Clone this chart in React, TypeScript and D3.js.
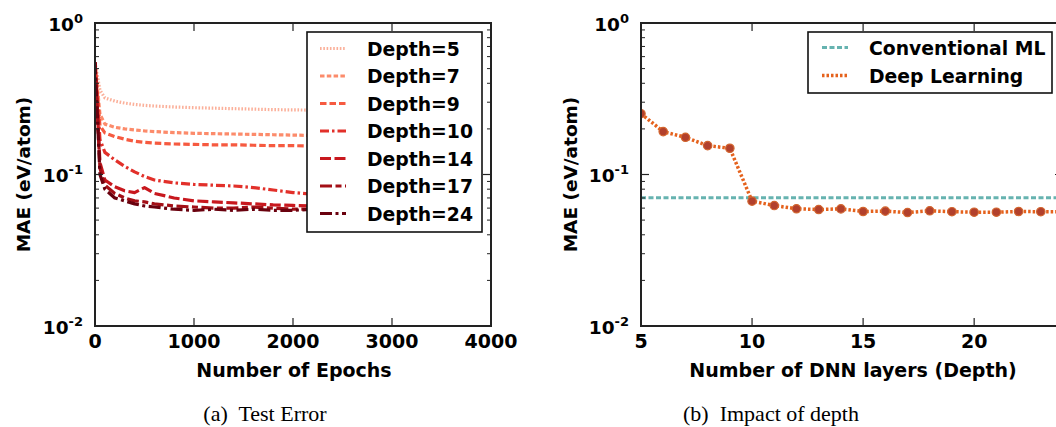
import React from "react";
import * as d3 from "d3";

const epochs = [0, 50, 100, 200, 300, 400, 500, 600, 800, 1000, 1200, 1400, 1600, 1800, 2000, 2200, 2400, 2600, 2800, 3000];
const depth5 = [0.55, 0.36, 0.32, 0.305, 0.296, 0.29, 0.286, 0.283, 0.279, 0.276, 0.274, 0.272, 0.27, 0.268, 0.267, 0.266, 0.265, 0.264, 0.263, 0.262];
const depth7 = [0.55, 0.25, 0.215, 0.205, 0.2, 0.197, 0.194, 0.192, 0.189, 0.187, 0.186, 0.185, 0.184, 0.183, 0.182, 0.181, 0.18, 0.18, 0.179, 0.179];
const depth9 = [0.55, 0.21, 0.188, 0.178, 0.171, 0.166, 0.163, 0.161, 0.159, 0.158, 0.157, 0.157, 0.156, 0.155, 0.155, 0.154, 0.154, 0.153, 0.153, 0.152];
const depth10 = [0.55, 0.17, 0.14, 0.125, 0.113, 0.104, 0.097, 0.092, 0.088, 0.086, 0.085, 0.084, 0.082, 0.079, 0.076, 0.074, 0.072, 0.071, 0.07, 0.069];
const depth14 = [0.55, 0.12, 0.092, 0.083, 0.078, 0.076, 0.082, 0.075, 0.07, 0.067, 0.066, 0.065, 0.064, 0.063, 0.0625, 0.062, 0.061, 0.061, 0.06, 0.06];
const depth17 = [0.55, 0.11, 0.085, 0.075, 0.07, 0.067, 0.066, 0.064, 0.062, 0.061, 0.06, 0.06, 0.061, 0.06, 0.059, 0.059, 0.058, 0.058, 0.058, 0.057];
const depth24 = [0.55, 0.1, 0.08, 0.07, 0.067, 0.064, 0.062, 0.061, 0.059, 0.058, 0.059, 0.058, 0.059, 0.058, 0.058, 0.059, 0.058, 0.058, 0.057, 0.057];

const seriesNames = ["Depth=5", "Depth=7", "Depth=9", "Depth=10", "Depth=14", "Depth=17", "Depth=24"];
const seriesValues = [depth5, depth7, depth9, depth10, depth14, depth17, depth24];
const seriesColors = ["#fbb09a", "#fc8b6b", "#f65a40", "#e2302a", "#c8181e", "#a30f16", "#6a010e"];
const seriesDash = ["1.6,1.7", "4.5,2.3", "6.5,3", "9,3,2.5,3", "11,3.5", "12,3.5,6,3.5", "12,3.5,3,3.5"];

const layers = [5, 6, 7, 8, 9, 10, 11, 12, 13, 14, 15, 16, 17, 18, 19, 20, 21, 22, 23, 24];
const deepLearning = [0.252, 0.192, 0.176, 0.155, 0.149, 0.0667, 0.0624, 0.0594, 0.0587, 0.0593, 0.057, 0.0573, 0.0561, 0.0576, 0.0568, 0.0564, 0.0564, 0.057, 0.0568, 0.0567];
const conventionalML = 0.0702;

const xTicksA = [0, 1000, 2000, 3000, 4000];
const xTicksB = [5, 10, 15, 20];
const yMajor = [0.01, 0.1, 1];
const yExp = ["-2", "-1", "0"];

const FONT = "DejaVu Sans, sans-serif";
const SERIF = "Liberation Serif, Times New Roman, serif";
const TOP = 23;
const BOT = 326;

function LogFrame({ x0, x1, xScale, xTicks }: any) {
  const y = d3.scaleLog().domain([0.01, 1]).range([BOT, TOP]);
  const minors: number[] = [];
  [0.01, 0.1].forEach((d) => {
    for (let k = 2; k <= 9; k++) minors.push(d * k);
  });
  return (
    <g>
      {minors.map((m, i) => (
        <g key={"m" + i} stroke="#222" strokeWidth={1}>
          <line x1={x0} x2={x0 + 4} y1={y(m)} y2={y(m)} />
          <line x1={x1} x2={x1 - 4} y1={y(m)} y2={y(m)} />
        </g>
      ))}
      {yMajor.map((m, i) => (
        <g key={"M" + i}>
          <line x1={x0} x2={x0 + 8} y1={y(m)} y2={y(m)} stroke="#222" strokeWidth={1.2} />
          <line x1={x1} x2={x1 - 8} y1={y(m)} y2={y(m)} stroke="#222" strokeWidth={1.2} />
          <text x={x0 - 12} y={y(m) + 7.5} textAnchor="end" fontFamily={FONT} fontWeight="bold" fontSize={18.5}>
            10
            <tspan dy={-8} fontSize={13}>{yExp[i]}</tspan>
          </text>
        </g>
      ))}
      {xTicks.map((t: number, i: number) => (
        <g key={"x" + i}>
          <line x1={xScale(t)} x2={xScale(t)} y1={BOT} y2={BOT - 8} stroke="#222" strokeWidth={1.2} />
          <line x1={xScale(t)} x2={xScale(t)} y1={TOP} y2={TOP + 8} stroke="#222" strokeWidth={1.2} />
          <text x={xScale(t)} y={348} textAnchor="middle" fontFamily={FONT} fontWeight="bold" fontSize={19}>
            {t}
          </text>
        </g>
      ))}
      <rect x={x0} y={TOP} width={x1 - x0} height={BOT - TOP} fill="none" stroke="#222" strokeWidth={2} />
    </g>
  );
}

export default function App() {
  const xA = d3.scaleLinear().domain([0, 4000]).range([95, 491]);
  const xB = d3.scaleLinear().domain([5, 24]).range([641, 1063]);
  const y = d3.scaleLog().domain([0.01, 1]).range([BOT, TOP]);

  const lineA = d3
    .line<number>()
    .x((_, i) => xA(epochs[i]))
    .y((d) => y(d));
  const lineB = d3
    .line<number>()
    .x((_, i) => xB(layers[i]))
    .y((d) => y(d));

  return (
    <svg width={1056} height={427} style={{ position: "absolute", left: 0, top: 0, background: "#fff" }}>
      <defs>
        <clipPath id="clipA">
          <rect x={95} y={TOP} width={396} height={BOT - TOP} />
        </clipPath>
        <clipPath id="clipB">
          <rect x={641} y={TOP} width={422} height={BOT - TOP} />
        </clipPath>
      </defs>
      <rect x={0} y={0} width={1056} height={427} fill="#fff" />

      {/* Panel A */}
      <g clipPath="url(#clipA)">
        {seriesValues.map((vals, i) => (
          <path
            key={i}
            d={lineA(vals) || ""}
            fill="none"
            stroke={seriesColors[i]}
            strokeWidth={3.2}
            strokeDasharray={seriesDash[i]}
            strokeLinejoin="round"
          />
        ))}
      </g>
      <LogFrame x0={95} x1={491} xScale={xA} xTicks={xTicksA} />
      <g>
        <rect x={307} y={32} width={175} height={200} fill="#fff" stroke="#111" strokeWidth={1.6} />
        {seriesNames.map((n, i) => {
          const yy = 48.5 + i * 27.5;
          return (
            <g key={n}>
              <line x1={320} x2={346} y1={yy} y2={yy} stroke={seriesColors[i]} strokeWidth={3.2} strokeDasharray={seriesDash[i]} />
              <text x={367} y={yy + 7} fontFamily={FONT} fontWeight="bold" fontSize={18.8}>
                {n}
              </text>
            </g>
          );
        })}
      </g>
      <text transform="translate(30,174.5) rotate(-90)" textAnchor="middle" fontFamily={FONT} fontWeight="bold" fontSize={18.5}>
        MAE (eV/atom)
      </text>
      <text x={294} y={377} textAnchor="middle" fontFamily={FONT} fontWeight="bold" fontSize={19}>
        Number of Epochs
      </text>
      <text x={265} y={421} textAnchor="middle" fontFamily={SERIF} fontSize={22} style={{ whiteSpace: "pre" }}>
        {"(a)  Test Error"}
      </text>

      {/* Panel B */}
      <g clipPath="url(#clipB)">
        <line
          x1={xB(5)}
          x2={xB(24)}
          y1={y(conventionalML)}
          y2={y(conventionalML)}
          stroke="#66b3b0"
          strokeWidth={3}
          strokeDasharray="5,2.5"
        />
        <path d={lineB(deepLearning) || ""} fill="none" stroke="#e5621d" strokeWidth={3.5} strokeDasharray="2.5,2" />
        {deepLearning.map((v, i) => (
          <circle key={i} cx={xB(layers[i])} cy={y(v)} r={4.2} fill="#b2402c" stroke="#d2652e" strokeWidth={1.2} />
        ))}
      </g>
      <LogFrame x0={641} x1={1063} xScale={xB} xTicks={xTicksB} />
      <g>
        <rect x={808} y={32} width={244} height={61} fill="#fff" stroke="#111" strokeWidth={1.6} />
        <line x1={822} x2={848} y1={47.5} y2={47.5} stroke="#66b3b0" strokeWidth={3} strokeDasharray="5,2.5" />
        <text x={869} y={54.5} fontFamily={FONT} fontWeight="bold" fontSize={18.8}>
          Conventional ML
        </text>
        <line x1={822} x2={848} y1={75.5} y2={75.5} stroke="#e5621d" strokeWidth={3.5} strokeDasharray="2.5,2" />
        <text x={869} y={82.5} fontFamily={FONT} fontWeight="bold" fontSize={18.8}>
          Deep Learning
        </text>
      </g>
      <text transform="translate(577,174.5) rotate(-90)" textAnchor="middle" fontFamily={FONT} fontWeight="bold" fontSize={18.5}>
        MAE (eV/atom)
      </text>
      <text x={853} y={377} textAnchor="middle" fontFamily={FONT} fontWeight="bold" fontSize={19}>
        Number of DNN layers (Depth)
      </text>
      <text x={771} y={421} textAnchor="middle" fontFamily={SERIF} fontSize={22} style={{ whiteSpace: "pre" }}>
        {"(b)  Impact of depth"}
      </text>
    </svg>
  );
}
